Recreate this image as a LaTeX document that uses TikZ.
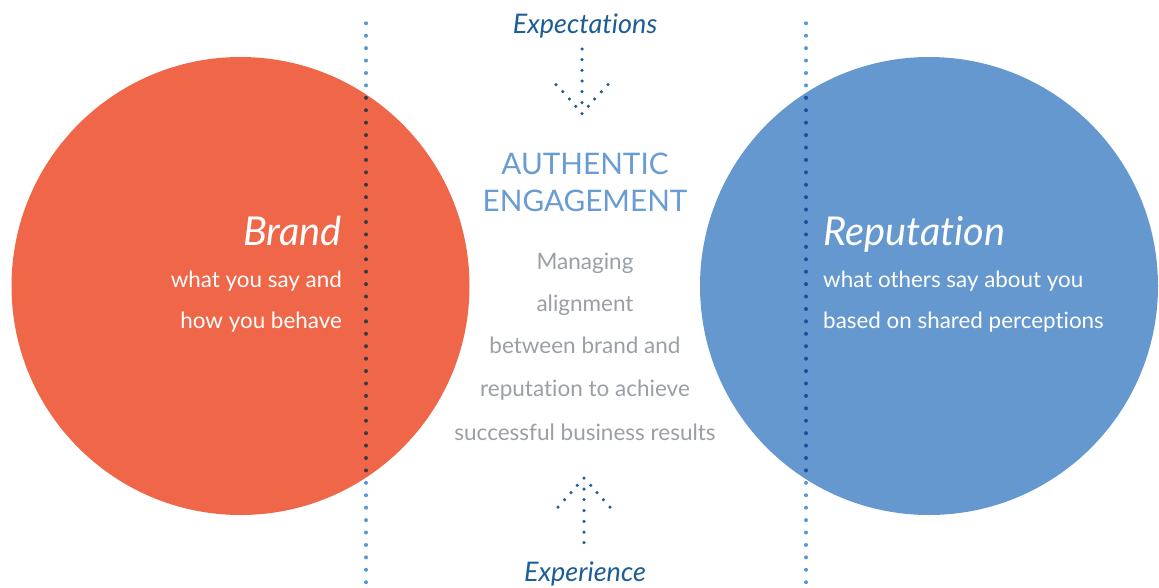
\documentclass[tikz,border=0pt]{standalone}
\usepackage{fontspec}
\setmainfont{Lato}[Ligatures=NoCommon]
\definecolor{brandred}{HTML}{F06648}
\definecolor{repblue}{HTML}{6598CF}
\definecolor{linedot}{HTML}{5B96D4}
\definecolor{darkred}{HTML}{4A3533}
\definecolor{darkblue}{HTML}{1F4E9A}
\definecolor{arrowblue}{HTML}{1D5D96}
\definecolor{headblue}{HTML}{6A9CD4}
\definecolor{bodygray}{HTML}{9A9FA5}
\begin{document}
\begin{tikzpicture}[x=1pt,y=-1pt,
  every node/.style={inner sep=0pt},
  bigitalic/.style={font=\itshape\fontsize{39.8}{39.8}\selectfont, text=white},
  whitebody/.style={font=\fontsize{22.4}{22.4}\selectfont, text=white},
  graybody/.style={font=\fontsize{22.5}{22.5}\selectfont, text=bodygray, anchor=base},
  headline/.style={font=\fontsize{29.7}{29.7}\selectfont, text=headblue, anchor=base},
  flowlabel/.style={font=\itshape\fontsize{27}{27}\selectfont, text=arrowblue, anchor=base},
  arrowdot/.style={fill=arrowblue}]
\useasboundingbox (0,0) rectangle (1159,587);

% the two circles
\fill[brandred] (240.5,286) circle (229pt);
\fill[repblue] (929,286) circle (229pt);

% dotted guide lines
\foreach \xx in {366,806}{
  \foreach \i in {0,...,45}{
    \fill[linedot] (\xx,23.3+\i*12.42) circle (2pt);
  }
}
\begin{scope}
  \clip (240.5,286) circle (229pt);
  \foreach \i in {0,...,45}{
    \fill[darkred] (366,23.3+\i*12.42) circle (2pt);
  }
\end{scope}
\begin{scope}
  \clip (929,286) circle (229pt);
  \foreach \i in {0,...,45}{
    \fill[darkblue] (806,23.3+\i*12.42) circle (2pt);
  }
\end{scope}

% dotted arrow pointing down
\foreach \p in {(582,49),(582,59.7),(582,70.3),(582,81),(582,91.7),(582,102.7),(582,113.7),
  (556,84.7),(562.7,91.7),(569.3,99),(575.7,106.3),
  (608,84.7),(601.3,91.7),(594.7,99),(588.3,106.3)}{
  \fill[arrowdot] \p circle (1.75pt);
}
% dotted arrow pointing up
\foreach \p in {(584,478),(584,489),(584,499.7),(584,510.7),(584,521.3),(584,532),(584,542.7),
  (577.3,485.3),(571,492.7),(564.7,499.7),(558,507),
  (590.7,485.3),(597,492.7),(603.3,499.7),(610,507)}{
  \fill[arrowdot] \p circle (1.75pt);
}

% labels
\node[flowlabel] (expect) at (585,33) {Expectations};
\node[flowlabel] (experience) at (585,581.5) {Experience};

\node[bigitalic, anchor=base east] (brand) at (342,245) {Brand};
\node[whitebody, anchor=base east] (brand1) at (342,287.3) {what you say and};
\node[whitebody, anchor=base east] (brand2) at (342,328.3) {how you behave};

\node[bigitalic, anchor=base west] (rep) at (823,245) {Reputation};
\node[whitebody, anchor=base west] (rep1) at (823,287.3) {what others say about you};
\node[whitebody, anchor=base west] (rep2) at (823,328.3) {based on shared perceptions};

\node[headline] (auth) at (585,174.3) {AUTHENTIC};
\node[headline] (engage) at (585,211.7) {ENGAGEMENT};

\node[graybody] (g1) at (585,269.3) {Managing};
\node[graybody] (g2) at (585,311.7) {alignment};
\node[graybody] (g3) at (585,353.3) {between brand and};
\node[graybody] (g4) at (585,396.7) {reputation to achieve};
\node[graybody] (g5) at (585,440) {successful business results};
\end{tikzpicture}
\end{document}
